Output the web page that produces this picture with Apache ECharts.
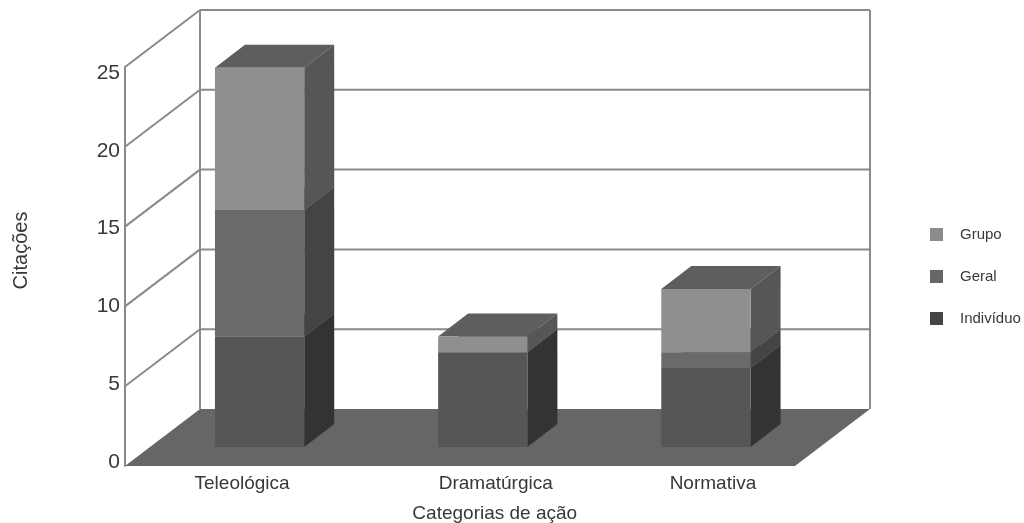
<!DOCTYPE html>
<html><head><meta charset="utf-8">
<style>html,body{margin:0;padding:0;background:#fff}#c{width:1024px;height:523px}</style>
<script src="https://cdn.jsdelivr.net/npm/echarts@6/dist/echarts.min.js"></script>
</head><body><div id="c"></div>
<script>
const categories = ['Teleológica', 'Dramatúrgica', 'Normativa'];
const individuo = [7, 6, 5];
const geral = [8, 0, 1];
const grupo = [9, 1, 4];
const yTicks = [0, 5, 10, 15, 20, 25];

const FONT = '"Liberation Sans","Roboto",sans-serif';
const TEXT = '#383838';
const WALL = { dx: 75, dy: -57, line: '#8a8a8a', floor: '#666666' };
const BAR = { frac: 0.4, dx: 30, dy: -23, top: '#5e5e5e' };

function barRender(front, side) {
  return function (params, api) {
    const i = api.value(0);
    const b = api.coord([i, api.value(1)]);
    const t = api.coord([i, api.value(2)]);
    const w = api.size([1, 0])[0] * BAR.frac;
    const l = b[0] - w / 2, r = b[0] + w / 2;
    return { type: 'group', children: [
      { type: 'polygon', shape: { points: [[l, t[1]], [r, t[1]], [r + BAR.dx, t[1] + BAR.dy], [l + BAR.dx, t[1] + BAR.dy]] }, style: { fill: BAR.top } },
      { type: 'polygon', shape: { points: [[r, b[1]], [r + BAR.dx, b[1] + BAR.dy], [r + BAR.dx, t[1] + BAR.dy], [r, t[1]]] }, style: { fill: side } },
      { type: 'rect', shape: { x: l, y: t[1], width: w, height: b[1] - t[1] }, style: { fill: front } }
    ] };
  };
}

function stackData(vals, bases) {
  return vals.map((v, i) => [i, bases[i], bases[i] + v]);
}
const base2 = individuo;
const base3 = individuo.map((v, i) => v + geral[i]);

function wallRender(params, api) {
  const v = api.value(0);
  const a = api.coord([0, v]), e = api.coord([1, v]);
  const bx = a[0] + WALL.dx, by = a[1] + WALL.dy, ex = e[0] + WALL.dx;
  const lineStyle = { stroke: WALL.line, lineWidth: 2, fill: null };
  const kids = [];
  if (v === 0) {
    const top = api.coord([0, yTicks[yTicks.length - 1]]);
    kids.push(
      { type: 'line', shape: { x1: bx, y1: by, x2: bx, y2: top[1] + WALL.dy }, style: lineStyle },
      { type: 'line', shape: { x1: ex, y1: by, x2: ex, y2: top[1] + WALL.dy }, style: lineStyle },
      { type: 'polygon', shape: { points: [[a[0], a[1]], [e[0], e[1]], [ex, by], [bx, by]] }, style: { fill: WALL.floor } }
    );
  } else {
    kids.push(
      { type: 'line', shape: { x1: a[0], y1: a[1], x2: bx, y2: by }, style: lineStyle },
      { type: 'line', shape: { x1: bx, y1: by, x2: ex, y2: by }, style: lineStyle }
    );
  }
  return { type: 'group', children: kids };
}

const chart = echarts.init(document.getElementById('c'), null, { renderer: 'canvas' });
chart.setOption({
  animation: false,
  backgroundColor: '#ffffff',
  textStyle: { fontFamily: FONT },
  grid: [
    { left: 125, top: 67, width: 670, height: 399, outerBoundsMode: 'none', containLabel: false },
    { left: 148, top: 52, width: 669.5, height: 395, outerBoundsMode: 'none', containLabel: false },
    { left: 125, top: 73, width: 670, height: 389, outerBoundsMode: 'none', containLabel: false }
  ],
  xAxis: [
    { gridIndex: 0, type: 'value', min: 0, max: 1, show: false },
    { gridIndex: 1, type: 'category', data: [
        { value: categories[0], textStyle: { padding: [0, 35, 0, 0] } },
        { value: categories[1], textStyle: { padding: [0, 0, 0, 26] } },
        { value: categories[2], textStyle: { padding: [0, 0, 0, 14] } }
      ],
      axisLine: { show: false }, axisTick: { show: false },
      axisLabel: { color: TEXT, fontSize: 19, margin: 27, fontFamily: FONT },
      name: 'Categorias de ação', nameLocation: 'middle', nameGap: 57,
      nameTextStyle: { color: TEXT, fontSize: 19, fontFamily: FONT, padding: [0, 0, 0, 24] }
    },
    { gridIndex: 2, type: 'value', min: 0, max: 1, show: false }
  ],
  yAxis: [
    { gridIndex: 0, type: 'value', min: 0, max: 25, interval: 5,
      splitLine: { show: false },
      axisLine: { show: true, lineStyle: { color: WALL.line, width: 2 } },
      axisTick: { show: false },
      axisLabel: { show: false },
      name: 'Citações', nameLocation: 'middle', nameGap: 94, nameRotate: 90,
      nameTextStyle: { color: TEXT, fontSize: 20, fontFamily: FONT, padding: [0, 0, 0, 32] }
    },
    { gridIndex: 1, type: 'value', min: 0, max: 25, show: false },
    { gridIndex: 2, type: 'value', min: 0, max: 25, interval: 5,
      splitLine: { show: false }, axisLine: { show: false }, axisTick: { show: false },
      axisLabel: { color: TEXT, fontSize: 21, margin: 5, fontFamily: FONT }
    }
  ],
  legend: {
    orient: 'vertical', left: 925, top: 222, itemWidth: 13, itemHeight: 13, itemGap: 27,
    icon: 'rect', data: ['Grupo', 'Geral', 'Indivíduo'], selectedMode: false,
    textStyle: { color: TEXT, fontSize: 15, fontFamily: FONT, padding: [0, 0, 0, 12] }
  },
  series: [
    { name: 'Paredes', type: 'custom', xAxisIndex: 0, yAxisIndex: 0, z: 1, silent: true, clip: false,
      data: yTicks.map(v => [v]), encode: { y: 0 }, renderItem: wallRender },
    { name: 'Indivíduo', type: 'custom', xAxisIndex: 1, yAxisIndex: 1, z: 3, clip: false,
      itemStyle: { color: '#444444' }, data: stackData(individuo, individuo.map(() => 0)),
      encode: { x: 0, y: [1, 2] }, renderItem: barRender('#565656', '#333333') },
    { name: 'Geral', type: 'custom', xAxisIndex: 1, yAxisIndex: 1, z: 4, clip: false,
      itemStyle: { color: '#666666' }, data: stackData(geral, base2),
      encode: { x: 0, y: [1, 2] }, renderItem: barRender('#6a6a6a', '#444444') },
    { name: 'Grupo', type: 'custom', xAxisIndex: 1, yAxisIndex: 1, z: 5, clip: false,
      itemStyle: { color: '#8c8c8c' }, data: stackData(grupo, base3),
      encode: { x: 0, y: [1, 2] }, renderItem: barRender('#8f8f8f', '#565656') }
  ]
});
</script></body></html>
